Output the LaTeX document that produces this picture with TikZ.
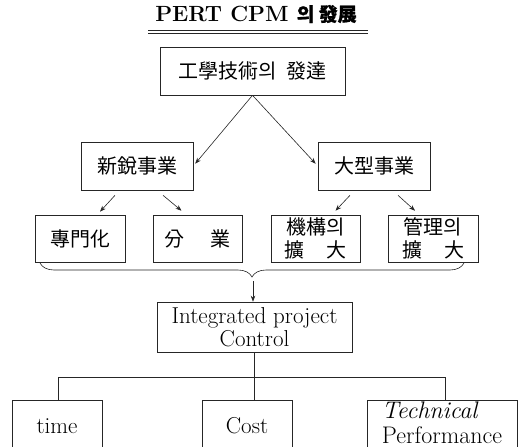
\documentclass[tikz,border=0pt]{standalone}
\usepackage{fontspec}
\newfontfamily\cjk{Noto Sans CJK KR}
\newfontfamily\cjkb[FakeBold=1]{Noto Sans CJK KR}
\usetikzlibrary{calc,arrows.meta,decorations.pathreplacing}
\begin{document}
\begin{tikzpicture}[x=1pt,y=-1pt,
  ln/.style={line width=0.6pt, draw=black!85},
  box/.style={ln, draw, inner sep=0pt, align=center},
  cj/.style={font=\cjk\fontsize{20}{23}\selectfont},
  la/.style={font=\fontsize{23}{23}\selectfont},
  arr/.style={ln, -{Stealth[length=6pt,width=4.5pt]}}]
\useasboundingbox (0,0) rectangle (520,447);
\clip (0,0) rectangle (520,447);
\fill[white] (0,0) rectangle (520,447);

% title
\node[font=\bfseries\fontsize{22}{24}\selectfont, inner sep=0pt] (title) at (256,14) {PERT CPM {\cjkb\fontsize{19}{20}\selectfont 의 發展}};
\coordinate (u1) at (148,30); \coordinate (u2) at (368,30);
\coordinate (u3) at (148,33.5); \coordinate (u4) at (368,33.5);
\draw[ln] (u1) -- (u2);
\draw[ln] (u3) -- (u4);

% boxes
\node[box,cj,minimum width=185pt,minimum height=48pt] (top) at (252.5,71) {工學技術의\hspace{0.5em}發達};
\node[box,cj,minimum width=112pt,minimum height=48pt] (lm) at (137,166) {新銳事業};
\node[box,cj,minimum width=112pt,minimum height=48pt] (rm) at (374,166) {大型事業};

\node[box,cj,minimum width=90pt,minimum height=47pt] (s1) at (80,238.5) {專門化};
\node[box,cj,minimum width=89pt,minimum height=47pt] (s2) at (197.5,238.5) {分\hspace{1.3em}業};
\node[box,cj,minimum width=89pt,minimum height=47pt] (s3) at (315.5,238.5) {機構의\\擴\hspace{1.1em}大};
\node[box,cj,minimum width=90pt,minimum height=47pt] (s4) at (433,238.5) {管理의\\擴\hspace{1.1em}大};

\node[box,la,minimum width=195pt,minimum height=50pt] (int) at (254.5,327) {Integrated project\\Control};

\node[box,la,minimum width=90pt,minimum height=52pt] (time) at (57,426) {time};
\node[box,la,minimum width=90pt,minimum height=52pt] (cost) at (247,426) {Cost};
\node[box,minimum width=150pt,minimum height=56pt] (tech) at (442,428) {};
\node[font=\fontsize{24}{24.5}\selectfont,align=left,inner sep=0pt] (techtxt) at (442,423) {{\itshape Technical}\\Performance};

% arrows from top
\draw[arr,shorten >=3pt] (top.south) -- (lm.east);
\draw[arr,shorten >=3pt] (top.south) -- (rm.west);

% arrows to small boxes
\draw[arr] ($(lm.south)+(-22,5)$) -- ($(s1.north)+(20,-3)$);
\draw[arr] ($(lm.south)+(26,5)$) -- ($(s2.north)+(-16,-4)$);
\draw[arr] ($(rm.south)+(-24,5)$) -- ($(s3.north)+(20,-4)$);
\draw[arr] ($(rm.south)+(24,5)$) -- ($(s4.north)+(-18,-4)$);

% brace
\coordinate (bl) at (40,263);
\coordinate (br) at (464,263);
\draw[ln, decorate, decoration={brace, mirror, amplitude=14pt}] (bl) -- (br);
\coordinate (bt) at (253,281);
\draw[arr] (bt) -- (bt |- int.north);

% bottom connectors
\coordinate (hl) at (58,377);
\coordinate (hr) at (445,377);
\draw[ln] (int.south) -- (int.south |- cost.north);
\draw[ln] (time.north -| hl) -- (hl) -- (hr) -- (tech.north -| hr);
\end{tikzpicture}
\end{document}
